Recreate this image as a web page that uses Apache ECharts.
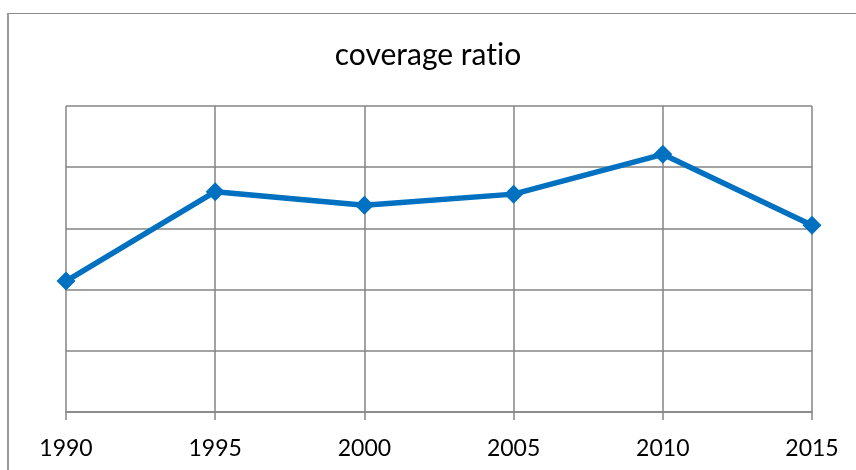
<!DOCTYPE html>
<html>
<head>
<meta charset="utf-8">
<script src="https://cdn.jsdelivr.net/npm/echarts@6/dist/echarts.min.js"></script>
<style>
  html, body { margin: 0; padding: 0; background: #ffffff; }
  #chart { width: 856px; height: 470px; }
</style>
</head>
<body>
<div id="chart"></div>
<script>
// Years on the category axis
const years = ['1990', '1995', '2000', '2005', '2010', '2015'];
// Coverage ratio for each year
const coverage = [2.14, 3.60, 3.38, 3.56, 4.21, 3.05];
// Value axis range and step (no tick labels shown)
const yMin = 0;
const yMax = 5;
const yStep = 1;

const gridColor = '#858585';
const fontFamily = 'Lato, "Open Sans", sans-serif';

const chart = echarts.init(document.getElementById('chart'), null, { renderer: 'canvas' });

chart.setOption({
  backgroundColor: '#ffffff',
  animation: false,
  title: {
    // zero-width non-joiner keeps "t" and "i" from fusing into a ligature
    text: 'coverage rat\u200Cio',
    left: 'center',
    top: 35,
    textStyle: { fontFamily: fontFamily, fontSize: 30, fontWeight: 'normal', color: '#000000' }
  },
  graphic: [
    // chart area frame
    { type: 'line', shape: { x1: 8, y1: 13.5, x2: 856, y2: 13.5 }, style: { stroke: '#8a8a8a', lineWidth: 1 }, silent: true },
    { type: 'line', shape: { x1: 8, y1: 13, x2: 8, y2: 470 }, style: { stroke: '#9a9a9a', lineWidth: 2 }, silent: true }
  ],
  grid: { left: 66, right: 44, top: 106, bottom: 58, containLabel: false },
  xAxis: {
    type: 'category',
    data: years,
    boundaryGap: false,
    axisLine: { show: true, lineStyle: { color: gridColor, width: 1.5 } },
    axisTick: { show: true, length: 8, lineStyle: { color: gridColor, width: 1.5 } },
    splitLine: { show: true, lineStyle: { color: gridColor, width: 1.5 } },
    axisLabel: { margin: 25, fontFamily: fontFamily, fontSize: 23, color: '#000000' }
  },
  yAxis: {
    type: 'value',
    min: yMin,
    max: yMax,
    interval: yStep,
    axisLine: { show: false },
    axisTick: { show: false },
    axisLabel: { show: false },
    splitLine: { show: true, lineStyle: { color: gridColor, width: 1.5 } }
  },
  series: [{
    type: 'line',
    data: coverage,
    symbol: 'diamond',
    symbolSize: 19,
    lineStyle: { color: '#0070C0', width: 5.5 },
    itemStyle: { color: '#0070C0' },
    z: 5
  }]
});
</script>
</body>
</html>
